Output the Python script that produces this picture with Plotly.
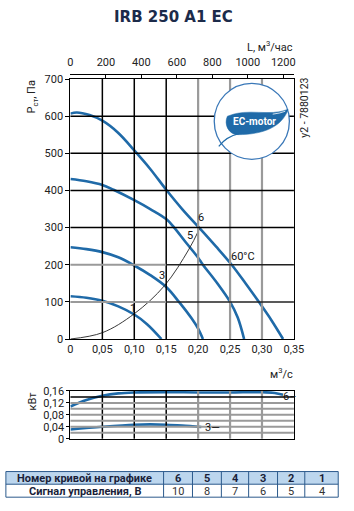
import plotly.graph_objects as go

W, H = 354, 511

# ---------------- data ----------------
# pressure curves (Q in m3/s, P in Pa)
q_c6 = [0, 0.01, 0.03, 0.05, 0.075, 0.10, 0.125, 0.15, 0.175, 0.2025, 0.2275, 0.2525, 0.275, 0.295, 0.315, 0.333]
p_c6 = [607, 610, 603, 588, 555, 508, 458, 402, 350, 298, 250, 200, 148, 100, 50, 0]
q_c5 = [0, 0.025, 0.05, 0.0675, 0.10, 0.125, 0.15, 0.1625, 0.18, 0.20, 0.2075, 0.23, 0.25, 0.262, 0.272]
p_c5 = [431, 425, 415, 402, 374, 350, 323, 300, 262, 219, 200, 150, 100, 58, 0]
q_c3 = [0, 0.025, 0.05, 0.075, 0.10, 0.125, 0.15, 0.17, 0.19, 0.20, 0.2075]
p_c3 = [247, 242, 234, 220, 198, 172, 140, 100, 55, 28, 0]
q_c1 = [0, 0.025, 0.05, 0.075, 0.10, 0.12, 0.1425]
p_c1 = [115, 111, 103, 88, 66, 40, 0]
# system curve
q_sys = [0, 0.05, 0.10, 0.1475, 0.185, 0.2025]
p_sys = [0, 17, 68, 144, 240, 298]
# power curves (kW)
q_pw6 = [0, 0.025, 0.05, 0.075, 0.10, 0.15, 0.20, 0.25, 0.30, 0.32, 0.333]
pw6 = [0.108, 0.130, 0.144, 0.152, 0.155, 0.156, 0.155, 0.155, 0.156, 0.153, 0.147]
q_pw3 = [0, 0.05, 0.10, 0.125, 0.15, 0.175, 0.205]
pw3 = [0.031, 0.040, 0.047, 0.048, 0.047, 0.044, 0.039]

# axes ticks
q_ticks = [0, 0.05, 0.10, 0.15, 0.20, 0.25, 0.30, 0.35]
q_ticktext = ["0", "0,05", "0,10", "0,15", "0,20", "0,25", "0,30", "0,35"]
p_ticks = [0, 100, 200, 300, 400, 500, 600, 700]
l_ticks = [0, 200, 400, 600, 800, 1000, 1200]
pw_ticks = [0, 0.04, 0.08, 0.12, 0.16]
pw_ticktext = ["0", "0,04", "0,08", "0,12", "0,16"]
pw_grid = [0.02, 0.04, 0.06, 0.08, 0.10, 0.12, 0.14]

# table
tbl_header = ["Номер кривой на графике", "6", "5", "4", "3", "2", "1"]
tbl_row = ["Сигнал управления, В", "10", "8", "7", "6", "5", "4"]

# ---------------- styling ----------------
BLUE = "#1f6aa8"
GRAY = "#9a9a9a"
FONT = "Roboto"
TXT = "#222"


def px(x):
    return x / W


def py(y):
    return 1 - y / H


Q_MAX, P_MAX, PW_MAX = q_ticks[-1], p_ticks[-1], pw_ticks[-1]
gray_q = [q for q in q_ticks[1:-1] if q >= 0.2]
black_q = [q for q in q_ticks[1:-1] if q < 0.2]

# plot areas in pixels (layout geometry)
X0, X1 = 70, 302
MY0, MY1 = 341.7, 75      # main chart bottom / top
PY0, PY1 = 444, 395       # power chart bottom / top


def qx(q):      # data -> paper x
    return px(X0 + (X1 - X0) * q / Q_MAX)


def my(p):      # data -> paper y, main chart
    return py(MY0 - (MY0 - MY1) * p / P_MAX)


def wy(v):      # data -> paper y, power chart
    return py(PY0 - (PY0 - PY1) * v / PW_MAX)


fig = go.Figure()

# ---- grid lines: one scatter trace per line, paper-based overlay axes ----
def seg(x0, y0, x1, y1, color, width):
    fig.add_trace(go.Scatter(x=[x0, x1], y=[y0, y1], mode="lines", line=dict(color=color, width=width),
                             xaxis="x9", yaxis="y9", showlegend=False, hoverinfo="skip", cliponaxis=False))


for q in q_ticks[1:-1]:
    c, w = (GRAY, 2.2) if q in gray_q else ("black", 1.5)
    seg(qx(q), my(0), qx(q), my(P_MAX), c, w)
    seg(qx(q), wy(0), qx(q), wy(PW_MAX), c, w)
for p in p_ticks[1:-1]:
    if p in (100, 200):
        seg(qx(0), my(p), qx(0.15), my(p), GRAY, 2.0)
        seg(qx(0.15), my(p), qx(Q_MAX), my(p), "#222", 1.5)
    else:
        seg(qx(0), my(p), qx(Q_MAX), my(p), "black", 1.5)
for v in pw_grid:
    c, w = ("black", 1.5) if v == 0.14 else (GRAY, 2.0)
    seg(qx(0), wy(v), qx(Q_MAX), wy(v), c, w)

# ---- curves ----
for q, p in [(q_c6, p_c6), (q_c5, p_c5), (q_c3, p_c3), (q_c1, p_c1)]:
    fig.add_trace(go.Scatter(x=q, y=p, mode="lines", line=dict(color=BLUE, width=2.6, shape="spline"),
                             xaxis="x", yaxis="y", showlegend=False, hoverinfo="skip"))
fig.add_trace(go.Scatter(x=q_sys, y=p_sys, mode="lines", line=dict(color="#222", width=0.9, shape="spline"),
                         xaxis="x", yaxis="y", showlegend=False, hoverinfo="skip"))
for q, p in [(q_pw6, pw6), (q_pw3, pw3)]:
    fig.add_trace(go.Scatter(x=q, y=p, mode="lines", line=dict(color=BLUE, width=2.6, shape="spline"),
                             xaxis="x2", yaxis="y2", showlegend=False, hoverinfo="skip"))
fig.add_trace(go.Scatter(x=[0, 1260], y=[0, 0], mode="lines", line=dict(width=0), xaxis="x3", yaxis="y",
                         showlegend=False, hoverinfo="skip"))

shapes = []
# EC-motor logo (decoration, paper coords)
cx, cy, r = 258.3, 118.3, 39
shapes.append(dict(type="circle", xref="paper", yref="paper", x0=px(cx - r), x1=px(cx + r),
                   y0=py(cy + r), y1=py(cy - r), fillcolor="white", line=dict(color="#3a78b8", width=1.3),
                   layer="above"))


def path(cmds):
    out = []
    for c in cmds:
        if isinstance(c, str):
            out.append(c)
        else:
            out.append("%.5f,%.5f" % (px(c[0]), py(c[1])))
    return " ".join(out)


leaf = path(["M", (233, 113), "C", (255, 104), (276, 114), (296, 106),
             "C", (290, 124), (270, 132), (244, 132), "C", (234, 132), (229, 121), (233, 113), "Z"])
shapes.append(dict(type="path", xref="paper", yref="paper", path=leaf, fillcolor=BLUE,
                   line=dict(color=BLUE, width=0.5), layer="above"))
tail = path(["M", (245, 131), "Q", (232, 134), (224, 144)])
shapes.append(dict(type="path", xref="paper", yref="paper", path=tail,
                   line=dict(color=BLUE, width=1.2), layer="above"))
shine = path(["M", (280, 111), "Q", (288, 110), (293, 108)])
shapes.append(dict(type="path", xref="paper", yref="paper", path=shine,
                   line=dict(color="white", width=0.8), layer="above"))

ann = []


def pa(text, x, y, size=11, color=TXT, angle=0, xa="center", family=FONT):
    ann.append(dict(text=text, x=px(x), y=py(y), xref="paper", yref="paper", showarrow=False,
                    xanchor=xa, yanchor="middle", textangle=angle,
                    font=dict(family=family, size=size, color=color)))


pa("<b>IRB 250 A1 EC</b>", 177, 11, size=15, color="#1c2b4a", family="DejaVu Sans")
pa("L, м<sup>3</sup>/час", 303, 42, xa="right")
pa("P<sub>ст</sub>, Па", 30, 93, angle=-90)
pa("y2 - 7880123", 313, 105, size=10.5, angle=-90)
pa("м<sup>3</sup>/с", 303, 377, xa="right")
pa("кВт", 31, 405, angle=-90)
pa("<b>EC-motor</b>", 261, 119, size=10, color="white")

for t, q, p in [("1", 0.0975, 83), ("3", 0.1435, 171), ("5", 0.1875, 280), ("6", 0.205, 326)]:
    ann.append(dict(text=t, x=q, y=p, xref="x", yref="y", showarrow=False,
                    font=dict(family=FONT, size=11, color="#111")))
ann.append(dict(text="60°C", x=0.27, y=221, xref="x", yref="y", showarrow=False,
                font=dict(family=FONT, size=11, color="#111")))
ann.append(dict(text="6–", x=0.3295, y=0.142, xref="x2", yref="y2", xanchor="left", yanchor="middle",
                showarrow=False, font=dict(family=FONT, size=11, color="#111")))
ann.append(dict(text="3—", x=0.208, y=0.037, xref="x2", yref="y2", xanchor="left", yanchor="middle",
                showarrow=False, font=dict(family=FONT, size=11, color="#111")))

# table drawn with shapes + text
col_edges = [3, 166.7, 196.7, 226.7, 255, 285, 313.3, 348]
row_edges = [477.7, 490.7, 504]
TBL_LINE = "#2c5a8c"
shapes.append(dict(type="rect", xref="paper", yref="paper", x0=px(col_edges[0]), x1=px(col_edges[-1]),
                   y0=py(row_edges[1]), y1=py(row_edges[0]), fillcolor="#bcd6ee", line=dict(width=0)))
for xe in col_edges:
    shapes.append(dict(type="line", xref="paper", yref="paper", x0=px(xe), x1=px(xe),
                       y0=py(row_edges[-1]), y1=py(row_edges[0]), line=dict(color=TBL_LINE, width=1)))
for ye in row_edges:
    shapes.append(dict(type="line", xref="paper", yref="paper", x0=px(col_edges[0]), x1=px(col_edges[-1]),
                       y0=py(ye), y1=py(ye), line=dict(color=TBL_LINE, width=1)))
for i in range(len(tbl_header)):
    xc = (col_edges[i] + col_edges[i + 1]) / 2
    pa("<b>%s</b>" % tbl_header[i], xc, (row_edges[0] + row_edges[1]) / 2 + 0.5, size=11, color="#1a1f3a")
    txt = "<b>%s</b>" % tbl_row[i] if i == 0 else tbl_row[i]
    pa(txt, xc, (row_edges[1] + row_edges[2]) / 2 + 0.5, size=11, color="#1a1f3a" if i == 0 else "#333")

axis_common = dict(showline=True, linecolor="black", linewidth=1.3, mirror=True,
                   zeroline=False, tickfont=dict(family=FONT, size=11, color=TXT))
XD = [px(X0), px(X1)]

fig.update_layout(
    width=W, height=H, margin=dict(l=0, r=0, t=0, b=0), autosize=False,
    paper_bgcolor="white", plot_bgcolor="rgba(0,0,0,0)",
    # full-page helper axes (paper units) holding the grid traces
    xaxis9=dict(domain=[0, 1], range=[0, 1], visible=False, anchor="y9", fixedrange=True),
    yaxis9=dict(domain=[0, 1], range=[0, 1], visible=False, anchor="x9", fixedrange=True),
    xaxis=dict(domain=XD, range=[0, Q_MAX], anchor="y", tickvals=q_ticks, ticktext=q_ticktext, ticks="",
               showgrid=False, **axis_common),
    yaxis=dict(domain=[py(MY0), py(MY1)], range=[0, P_MAX], anchor="x", tickvals=p_ticks,
               ticks="outside", ticklen=4, tickcolor="black", showgrid=False, **axis_common),
    xaxis2=dict(domain=XD, range=[0, Q_MAX], anchor="y2", tickvals=q_ticks, showticklabels=False, ticks="",
                showgrid=False, **axis_common),
    yaxis2=dict(domain=[py(PY0), py(PY1)], range=[0, PW_MAX], anchor="x2", tickvals=pw_ticks,
                ticktext=pw_ticktext, ticks="outside", ticklen=3, tickcolor="black", showgrid=False,
                **axis_common),
    xaxis3=dict(overlaying="x", side="top", anchor="free", position=py(69.3), range=[0, Q_MAX * 3600],
                tickvals=l_ticks, ticks="inside", ticklen=3, tickcolor="black", showline=True,
                linecolor="black", linewidth=1.3, showgrid=False, zeroline=False, ticklabelstandoff=3,
                tickfont=dict(family=FONT, size=11, color=TXT)),
    shapes=shapes, annotations=ann,
)

fig.write_html("out.html")
